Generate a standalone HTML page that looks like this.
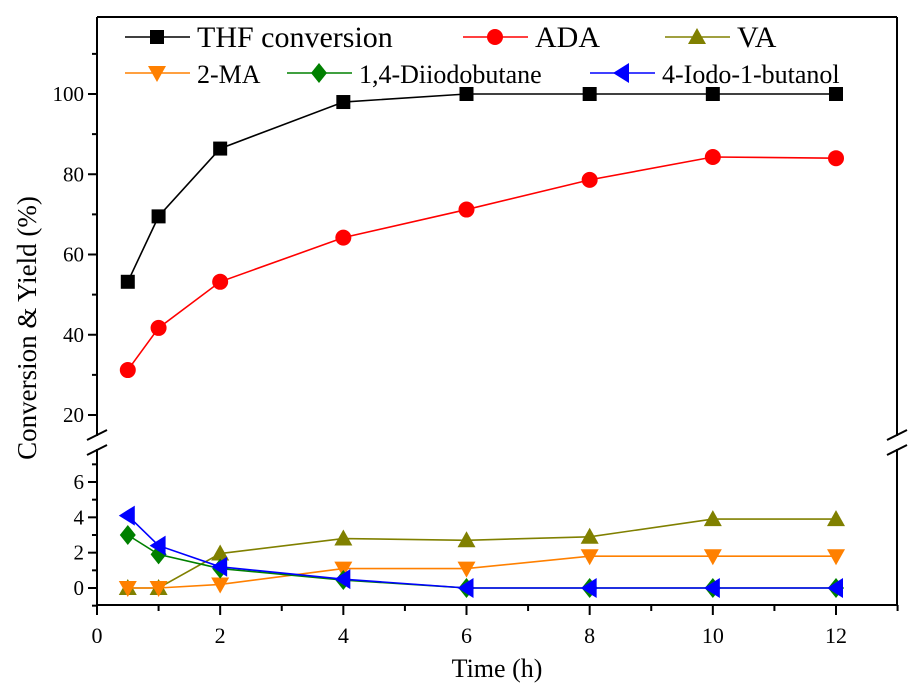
<!DOCTYPE html>
<html><head><meta charset="utf-8"><style>
body{margin:0;background:#fff}
svg{display:block;font-family:"Liberation Serif",serif}
</style></head><body>
<svg id="chart" width="919" height="695" viewBox="0 0 919 695"></svg>
<script>
const times=[0.5,1,2,4,6,8,10,12];
const thf=[53.2,69.5,86.4,98,100,100,100,100];
const ada=[31.2,41.7,53.2,64.2,71.2,78.6,84.3,84.0];
const va=[0,0,1.95,2.8,2.7,2.9,3.9,3.9];
const ma=[0,0,0.2,1.1,1.1,1.8,1.8,1.8];
const diiodo=[3.0,1.9,1.1,0.45,0,0,0,0];
const iodo=[4.1,2.4,1.2,0.5,0,0,0,0];
const xTicks=[0,2,4,6,8,10,12];
const yUpperTicks=[20,40,60,80,100];
const yLowerTicks=[0,2,4,6];

const svg=document.getElementById('chart');
const NS='http://www.w3.org/2000/svg';
function el(t,a,p){const e=document.createElementNS(NS,t);for(const k in a)e.setAttribute(k,a[k]);(p||svg).appendChild(e);return e;}
const L=97,R=897,T=17,B=605;
const xS=v=>97+v*(836-97)/12;
const yU=v=>415+(v-20)*(94-415)/80;
const yL=v=>588+v*(482-588)/6;
const BRK_TOP=436,BRK_BOT=449;

let g=el('g',{});
el('line',{x1:L,y1:T,x2:R,y2:T,stroke:'#000','stroke-width':2},g);
el('line',{x1:L,y1:B,x2:R,y2:B,stroke:'#000','stroke-width':2},g);
[L,R].forEach(x=>{
 el('line',{x1:x,y1:T,x2:x,y2:BRK_TOP,stroke:'#000','stroke-width':2},g);
 el('line',{x1:x,y1:BRK_BOT,x2:x,y2:B,stroke:'#000','stroke-width':2},g);
 el('line',{x1:x-10,y1:BRK_TOP+4,x2:x+10,y2:BRK_TOP-6,stroke:'#000','stroke-width':2},g);
 el('line',{x1:x-10,y1:BRK_BOT+6,x2:x+10,y2:BRK_BOT-4,stroke:'#000','stroke-width':2},g);
});
for(let v=0;v<=13;v++){
 const x=xS(v),maj=v%2===0;
 el('line',{x1:x,y1:B,x2:x,y2:B+(maj?10:6),stroke:'#000','stroke-width':2},g);
}
xTicks.forEach(v=>{const t=el('text',{x:xS(v),y:643,'font-size':22,'text-anchor':'middle'},g);t.textContent=v;});
for(let v=20;v<=110;v+=10){
 const y=yU(v),maj=v%20===0;
 el('line',{x1:L,y1:y,x2:L-(maj?9:5),y2:y,stroke:'#000','stroke-width':2},g);
}
yUpperTicks.forEach(v=>{const t=el('text',{x:L-13,y:yU(v)+7,'font-size':21,'text-anchor':'end'},g);t.textContent=v;});
for(let v=-1;v<=7;v++){
 const y=yL(v),maj=v%2===0;
 el('line',{x1:L,y1:y,x2:L-(maj?9:5),y2:y,stroke:'#000','stroke-width':2},g);
}
yLowerTicks.forEach(v=>{const t=el('text',{x:L-13,y:yL(v)+7,'font-size':21,'text-anchor':'end'},g);t.textContent=v;});

let xt=el('text',{x:497,y:677,'font-size':26,'text-anchor':'middle'});xt.textContent='Time (h)';

let yt=el('text',{x:0,y:0,'font-size':27,'text-anchor':'middle',transform:'translate(36,328) rotate(-90)'});yt.textContent='Conversion & Yield (%)';


function marker(type,x,y,c,p){
 if(type==='sq')return el('rect',{x:x-7,y:y-7,width:14,height:14,fill:c},p);
 if(type==='ci')return el('circle',{cx:x,cy:y,r:8,fill:c},p);
 if(type==='up')return el('polygon',{points:`${x},${y-9} ${x-9},${y+7} ${x+9},${y+7}`,fill:c},p);
 if(type==='dn')return el('polygon',{points:`${x},${y+9} ${x-9},${y-7} ${x+9},${y-7}`,fill:c},p);
 if(type==='di')return el('polygon',{points:`${x},${y-10} ${x-8},${y} ${x},${y+10} ${x+8},${y}`,fill:c},p);
 if(type==='lf')return el('polygon',{points:`${x-9},${y} ${x+7},${y-10} ${x+7},${y+10}`,fill:c},p);
}
const series=[
 {name:'thf-conversion',label:'THF conversion',data:thf,y:yU,c:'#000',m:'sq',lx:125,ly:37,fs:30},
 {name:'ada',label:'ADA',data:ada,y:yU,c:'#ff0000',m:'ci',lx:463,ly:37,fs:30},
 {name:'va',label:'VA',data:va,y:yL,c:'#808000',m:'up',lx:665,ly:37,fs:30},
 {name:'2-ma',label:'2-MA',data:ma,y:yL,c:'#ff8000',m:'dn',lx:125,ly:73,fs:26},
 {name:'diiodobutane',label:'1,4-Diiodobutane',data:diiodo,y:yL,c:'#008000',m:'di',lx:287,ly:73,fs:26},
 {name:'iodobutanol',label:'4-Iodo-1-butanol',data:iodo,y:yL,c:'#0000ff',m:'lf',lx:590,ly:73,fs:26},
];
series.forEach(s=>{
 const sg=el('g',{});
 const pts=s.data.map((v,i)=>xS(times[i])+','+s.y(v)).join(' ');
 el('polyline',{points:pts,fill:'none',stroke:s.c,'stroke-width':1.6},sg);
 s.data.forEach((v,i)=>{const m=marker(s.m,xS(times[i]),s.y(v),s.c,sg);});
 const lg=el('g',{});
 el('line',{x1:s.lx,y1:s.ly,x2:s.lx+65,y2:s.ly,stroke:s.c,'stroke-width':1.6},lg);
 marker(s.m,s.lx+32,s.ly,s.c,lg);
 const t=el('text',{x:s.lx+72,y:s.ly+10,'font-size':s.fs},lg);t.textContent=s.label;
});
</script>
</body></html>
